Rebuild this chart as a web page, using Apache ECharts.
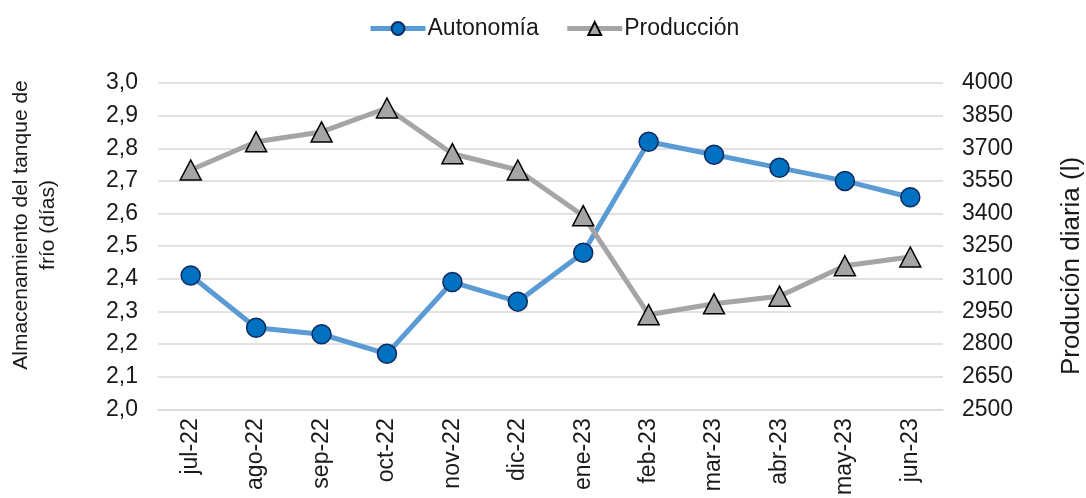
<!DOCTYPE html>
<html>
<head>
<meta charset="utf-8">
<script src="https://cdn.jsdelivr.net/npm/echarts@6/dist/echarts.min.js"></script>
<style>
  html, body { margin: 0; padding: 0; background: #fff; }
  #chart { width: 1086px; height: 498px; }
</style>
</head>
<body>
<div id="chart"></div>
<script>
// datos
const months = ['jul-22', 'ago-22', 'sep-22', 'oct-22', 'nov-22', 'dic-22',
  'ene-23', 'feb-23', 'mar-23', 'abr-23', 'may-23', 'jun-23']
const autonomia = [2.41, 2.25, 2.23, 2.17, 2.39, 2.33, 2.48, 2.82, 2.78, 2.74, 2.70, 2.65]
const produccion = [3600, 3730, 3775, 3885, 3675, 3600, 3390, 2935, 2985, 3020, 3160, 3200]

const fontFamily = 'Liberation Sans, Arial, sans-serif'
const fontColor = '#1a1a1a'
const gridLine = { lineStyle: { color: '#d9d9d9', width: 1.5 } }

const chart = echarts.init(document.getElementById('chart'))
chart.setOption({
  animation: false,
  textStyle: { fontFamily: fontFamily },
  legend: {
    top: 12,
    left: 363,
    itemWidth: 55,
    itemHeight: 16,
    itemGap: 26,
    lineStyle: { width: 5 },
    textStyle: { fontSize: 23, color: fontColor, fontFamily: fontFamily, padding: [0, 0, 0, -3] },
    data: ['Autonomía', 'Producción']
  },
  grid: { left: 158, right: 143, top: 83, bottom: 87 },
  xAxis: {
    type: 'category',
    data: months,
    boundaryGap: true,
    axisLine: { lineStyle: { color: '#d9d9d9', width: 1.5 } },
    axisTick: { show: false },
    axisLabel: {
      rotate: 90,
      margin: 9,
      fontSize: 23,
      color: fontColor,
      interval: 0
    }
  },
  yAxis: [{
    type: 'value',
    min: 2,
    max: 3,
    interval: 0.1,
    axisLine: { show: false },
    axisTick: { show: false },
    splitLine: gridLine,
    axisLabel: {
      margin: 20,
      fontSize: 23,
      color: fontColor,
      formatter: v => v.toFixed(1).replace('.', ',')
    }
  }, {
    type: 'value',
    min: 2500,
    max: 4000,
    interval: 150,
    axisLine: { show: false },
    axisTick: { show: false },
    splitLine: { show: false },
    axisLabel: {
      margin: 19,
      fontSize: 23,
      color: fontColor,
      formatter: v => String(v)
    }
  }],
  graphic: [{
    type: 'text',
    rotation: Math.PI / 2,
    x: 35,
    y: 225,
    style: {
      text: 'Almacenamiento del tanque de\nfrío (días)',
      fontSize: 21,
      fontFamily: fontFamily,
      fill: fontColor,
      align: 'center',
      verticalAlign: 'middle',
      lineHeight: 27
    }
  }, {
    type: 'text',
    rotation: Math.PI / 2,
    x: 1072,
    y: 266,
    style: {
      text: 'Produción diaria (l)',
      fontSize: 26,
      fontFamily: fontFamily,
      fill: fontColor,
      align: 'center',
      verticalAlign: 'middle'
    }
  }],
  series: [{
    name: 'Autonomía',
    type: 'line',
    yAxisIndex: 0,
    data: autonomia,
    symbol: 'circle',
    symbolSize: 19,
    lineStyle: { color: '#5b9bd5', width: 5 },
    itemStyle: { color: '#0070c0', borderColor: '#0d2b5e', borderWidth: 1.5 },
    z: 2
  }, {
    name: 'Producción',
    type: 'line',
    yAxisIndex: 1,
    data: produccion,
    symbol: 'triangle',
    symbolSize: [21, 20],
    lineStyle: { color: '#a5a5a5', width: 5 },
    itemStyle: { color: '#a5a5a5', borderColor: '#000', borderWidth: 1.5 },
    z: 3
  }]
})
</script>
</body>
</html>
